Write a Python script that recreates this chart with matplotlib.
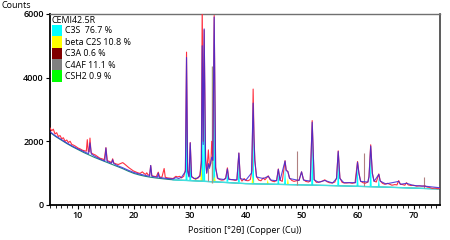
import numpy as np
import matplotlib
matplotlib.use("Agg")
import matplotlib.pyplot as plt
from matplotlib.patches import Patch
from matplotlib.ticker import MultipleLocator

plt.rcParams['font.family'] = ['Open Sans', 'DejaVu Sans']

# --- observed pattern (2theta, counts) ---
obs_x = [5.0, 5.3, 5.6, 5.9, 6.2, 6.5, 6.8, 7.1, 7.4, 7.7, 8.0, 8.3, 8.6, 8.9, 9.2, 9.6,
         10.0, 10.4, 10.8, 11.2, 11.5, 11.67, 11.85, 12.0, 12.15, 12.35, 12.7, 13.1, 13.5,
         13.9, 14.3, 14.7, 15.0, 15.25, 15.6, 16.0, 16.2, 16.4, 16.8, 17.2, 17.6, 18.0,
         18.3, 18.7, 19.1, 19.5, 19.9, 20.3, 20.7, 21.1, 21.5, 21.8, 22.1, 22.3, 22.5,
         22.8, 23.0, 23.2, 23.6, 24.0, 24.35, 24.6, 25.0, 25.4, 25.6, 26.0, 26.5, 27.0,
         27.5, 27.8, 28.2, 28.5, 28.9, 29.2, 29.4, 29.6, 29.85, 30.06, 30.3, 30.7, 31.1,
         31.5, 31.8, 32.05, 32.2, 32.38, 32.55, 32.8, 33.0, 33.3, 33.5, 33.75, 33.9, 34.1,
         34.34, 34.6, 34.9, 35.3, 35.7, 36.1, 36.4, 36.7, 36.95, 37.3, 37.7, 38.1, 38.4,
         38.75, 39.0, 39.3, 39.7, 40.0, 40.4, 40.8, 41.1, 41.3, 41.45, 41.6, 41.9, 42.3,
         42.7, 43.1, 43.4, 43.7, 44.0, 44.3, 44.7, 45.1, 45.5, 45.8, 46.1, 46.5, 47.0,
         47.2, 47.5, 47.8, 48.2, 48.6, 49.0, 49.5, 49.95, 50.3, 50.7, 51.2, 51.5, 51.85,
         52.2, 52.6, 53.0, 53.4, 53.8, 54.1, 54.5, 54.9, 55.4, 55.9, 56.2, 56.5, 56.8,
         57.2, 57.6, 58.0, 58.5, 59.0, 59.5, 59.95, 60.2, 60.5, 60.9, 61.3, 61.8, 62.0,
         62.3, 62.6, 62.9, 63.3, 63.75, 64.0, 64.4, 64.8, 65.3, 65.7, 66.1, 66.6, 67.0,
         67.3, 67.6, 68.0, 68.4, 68.7, 69.0, 69.5, 70.0, 70.5, 71.0, 71.5, 72.0, 72.4,
         72.8, 73.3, 73.8, 74.2, 74.7]
obs_y = [2420, 2330, 2380, 2230, 2270, 2150, 2180, 2080, 2110, 2000, 2040, 1960, 2000, 1900,
         1880, 1840, 1790, 1760, 1720, 1700, 1690, 2050, 1680, 1670, 2100, 1640, 1600, 1570,
         1520, 1470, 1450, 1420, 1800, 1390, 1370, 1330, 1450, 1320, 1290, 1270, 1300, 1330,
         1290, 1230, 1170, 1120, 1070, 1040, 1010, 990, 1040, 990, 960, 1010, 950, 930, 1240,
         920, 900, 890, 1030, 880, 870, 1145, 870, 850, 840, 830, 900, 880, 900, 850, 900,
         1100, 4800, 1100, 900, 1960, 900, 830, 820, 850, 950, 1400, 6300, 2000, 5500, 1500,
         1000, 1730, 1200, 1300, 2000, 1400, 5950, 1200, 850, 800, 780, 790, 850, 1165, 820,
         800, 790, 770, 790, 1630, 850, 750, 830, 770, 760, 800, 1100, 3640, 2200, 1400, 900,
         780, 760, 850, 790, 850, 915, 800, 750, 730, 780, 1130, 780, 740, 1390, 1100, 1050,
         850, 770, 740, 760, 780, 1040, 800, 740, 720, 760, 2650, 800, 710, 720, 730, 760,
         790, 730, 700, 690, 720, 850, 1700, 850, 710, 690, 690, 700, 680, 700, 1365, 1000,
         750, 700, 680, 720, 900, 1890, 1000, 750, 720, 975, 760, 680, 650, 680, 650, 620,
         640, 630, 765, 650, 640, 620, 700, 630, 610, 620, 590, 600, 590, 600, 560, 550, 520,
         530, 510, 520]

# --- calculated pattern ---
calc_x = [5.0, 6.0, 7.0, 8.0, 9.0, 10.0, 11.0, 11.9, 12.15, 12.4, 13.0, 14.0, 14.8, 15.0,
          15.2, 16.0, 16.2, 16.4, 17.0, 18.0, 19.0, 20.0, 21.0, 22.0, 22.8, 23.0, 23.2,
          24.2, 24.35, 24.5, 25.0, 26.0, 27.0, 27.5, 28.0, 28.5, 29.2, 29.4, 29.6, 29.85,
          30.06, 30.3, 31.0, 31.8, 32.05, 32.2, 32.38, 32.55, 32.8, 33.0, 33.3, 33.5, 33.9,
          34.1, 34.34, 34.6, 35.0, 36.0, 36.4, 36.7, 36.95, 38.4, 38.75, 39.0, 40.0, 41.0,
          41.3, 41.45, 41.6, 41.9, 43.1, 44.0, 44.5, 45.5, 45.8, 46.1, 47.0, 47.2, 47.5,
          47.8, 49.5, 49.95, 50.3, 51.5, 51.85, 52.2, 53.0, 54.1, 55.5, 56.2, 56.5, 56.8,
          57.5, 59.6, 59.95, 60.2, 60.5, 61.8, 62.0, 62.3, 62.6, 62.9, 63.75, 64.0, 65.0,
          67.3, 67.6, 68.7, 70.0, 72.0, 74.7]
calc_y = [2300, 2170, 2060, 1950, 1850, 1760, 1680, 1610, 1950, 1600, 1530, 1440, 1380, 1790,
          1370, 1310, 1420, 1300, 1240, 1170, 1090, 1020, 970, 930, 900, 1240, 900, 870, 1000,
          865, 850, 830, 815, 860, 830, 870, 1050, 4630, 1050, 880, 1950, 880, 820, 900, 1300,
          5000, 1900, 5530, 1400, 1000, 1300, 1150, 1500, 1400, 5900, 1150, 830, 800, 830,
          1130, 800, 790, 1630, 830, 780, 1000, 3200, 2100, 1400, 880, 830, 900, 780, 760,
          1120, 770, 1380, 1080, 1050, 830, 770, 1040, 780, 750, 2600, 790, 710, 770, 690,
          830, 1680, 830, 700, 700, 1340, 980, 740, 720, 880, 1850, 980, 740, 960, 750, 660,
          740, 650, 680, 610, 590, 540]

# --- background ---
bg_x = [5, 6, 7, 8, 9, 10, 11, 12, 13, 14, 15, 16, 17, 18, 19, 20, 21, 22, 23, 24, 25,
        26, 27, 28, 30, 35, 40, 45, 50, 55, 60, 65, 70, 74.7]
bg_y = [2280, 2150, 2040, 1930, 1830, 1740, 1650, 1570, 1490, 1420, 1350, 1280, 1210, 1140,
        1060, 990, 940, 900, 870, 845, 825, 805, 790, 780, 765, 720, 670, 650, 630, 610,
        585, 560, 530, 500]

# --- phase peaks (position, base, top) ---
c3s_pos = [29.4, 30.06, 32.2, 32.55, 34.34, 36.7, 38.75, 41.3, 45.8, 47.0, 51.85, 56.5,
           59.95, 62.3, 63.75]
c3s_base = [770, 765, 760, 760, 750, 730, 710, 680, 655, 650, 625, 610, 590, 580, 575]
c3s_top = [4300, 1700, 3500, 5000, 5300, 1000, 1450, 2900, 1000, 1200, 2400, 1500, 1200,
           1700, 850]
c2s_pos = [31.0, 32.05, 34.4, 41.2, 43.9, 47.5]
c2s_base = [765, 760, 750, 680, 660, 650]
c2s_top = [900, 1300, 900, 900, 800, 850]
c4af_pos = [33.95]
c4af_top = [4360]
c3a_pos = [33.25, 49.05, 61.1, 71.85]
c3a_top = [1300, 1680, 1630, 890]

legend_labels = ["C3S  76.7 %", "beta C2S 10.8 %", "C3A 0.6 %", "C4AF 11.1 %", "CSH2 0.9 %"]
legend_colors = ["#00ffff", "#ffff00", "#800000", "#808080", "#00ff00"]

fig = plt.figure(figsize=(4.5, 2.4), dpi=100)
ax = fig.add_axes([0.111, 0.146, 0.867, 0.796])

hw = 0.18
for p, b, t in zip(c3s_pos, c3s_base, c3s_top):
    ax.fill([p - hw, p, p + hw], [b, t, b], color="#00ffff", lw=0, zorder=2)
for p, b, t in zip(c2s_pos, c2s_base, c2s_top):
    ax.fill([p - hw, p, p + hw], [b, t, b], color="#ffff00", lw=0, zorder=2)
ax.vlines(c4af_pos, 700, c4af_top, color="#a09a80", lw=1.0, zorder=3)
ax.vlines(c3a_pos, [760, 640, 590, 540], c3a_top, color="#b08080", lw=0.8, zorder=3)

bg_x_arr = np.array(bg_x)
bg_y_arr = np.array(bg_y)
ax.plot(bg_x_arr, bg_y_arr, color="#208a80", lw=0.8, zorder=2)
m = bg_x_arr >= 27
ax.plot(bg_x_arr[m], bg_y_arr[m], color="#40e0e0", lw=1.0, zorder=2)

ax.plot(obs_x, obs_y, color="#ff3040", lw=0.8, zorder=4)
ax.plot(calc_x, calc_y, color="#3a2ad8", lw=0.8, alpha=0.85, zorder=5)

ax.set_xlim(5, 74.7)
ax.set_ylim(0, 6000)
ax.set_yticks([0, 2000, 4000, 6000])
ax.set_xticks([10, 20, 30, 40, 50, 60, 70])
ax.xaxis.set_minor_locator(MultipleLocator(1))
ax.tick_params(axis="both", labelsize=6.5, length=3, width=0.8, pad=1.5)
ax.tick_params(axis="x", which="minor", length=1.8, width=0.6)
for lab in ax.get_xticklabels() + ax.get_yticklabels():
    lab.set_fontweight("semibold")

for s in ["left", "bottom"]:
    ax.spines[s].set_linewidth(1.3)
    ax.spines[s].set_color("black")
ax.spines["top"].set_color("#707070")
ax.spines["top"].set_linewidth(1.0)
ax.spines["right"].set_color("#404040")
ax.spines["right"].set_linewidth(1.2)

handles = [Patch(facecolor=c, edgecolor="none") for c in legend_colors]
leg = ax.legend(handles, legend_labels, title="CEMI42.5R", loc="upper left",
                frameon=False, fontsize=6.4, title_fontsize=6.4, handlelength=1.2,
                handleheight=1.6, handletextpad=0.25, labelspacing=0.0,
                borderpad=0.1, borderaxespad=0.1)
leg._legend_box.align = "left"

ax.set_xlabel("Position [°2θ] (Copper (Cu))", fontsize=6.5, labelpad=4)
fig.text(0.003, 0.96, "Counts", fontsize=6.5, ha="left", va="bottom")

fig.savefig("out.png", dpi=100)
